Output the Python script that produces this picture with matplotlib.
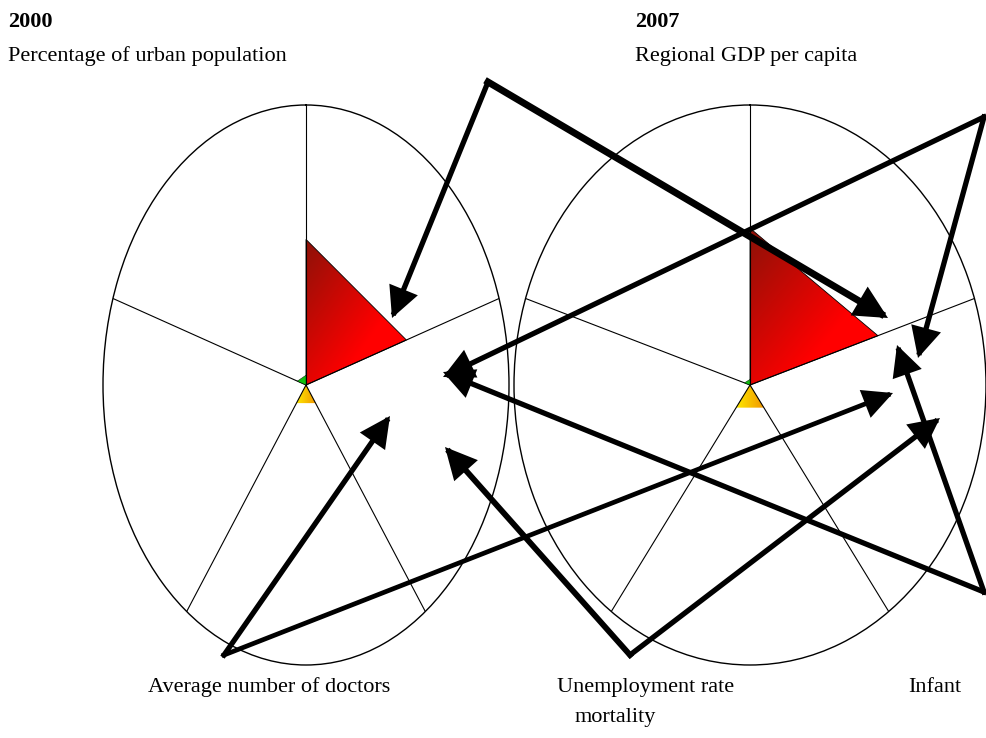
import numpy as np
import matplotlib
matplotlib.use("Agg")
import matplotlib.pyplot as plt
from matplotlib.colors import to_rgb

# ---------------- data ----------------
categories = ["Percentage of urban population", "Regional GDP per capita",
              "Average number of doctors", "Unemployment rate", "Infant mortality"]
years = ["2000", "2007"]
red_2000 = [0.52, 0.52, 0.0, 0.0, 0.0]
green_2000 = [0.035, 0.0, 0.0, 0.0, 0.045]
yellow_2000 = [0.0, 0.0, 0.08, 0.08, 0.0]
red_2007 = [0.56, 0.57, 0.0, 0.0, 0.0]
green_2007 = [0.02, 0.0, 0.0, 0.0, 0.025]
yellow_2007 = [0.0, 0.0, 0.10, 0.10, 0.0]

W, H = 986, 738
fig = plt.figure(figsize=(W / 100, H / 100), dpi=100)
fig.patch.set_facecolor("white")
plt.rcParams["font.family"] = ["Liberation Serif", "DejaVu Serif"]

def rect(cx, cy, rx, ry):
    return [(cx - rx) / W, 1 - (cy + ry) / H, 2 * rx / W, 2 * ry / H]

# background axis for gradients (below polar axes)
ax_bg = fig.add_axes([0, 0, 1, 1], zorder=0)
ax_bg.axis("off")

N = len(categories)
angles = np.arange(N) * 2 * np.pi / N

def make_polar(cx, cy, rx, ry):
    ax = fig.add_axes(rect(cx, cy, rx, ry), projection="polar", zorder=1)
    ax.set_aspect("auto")
    ax.set_theta_zero_location("N")
    ax.set_theta_direction(-1)
    ax.set_ylim(0, 1)
    ax.set_yticks([])
    ax.set_xticks(angles)
    ax.set_xticklabels([])
    ax.xaxis.grid(True, color="black", lw=0.8)
    ax.yaxis.grid(False)
    ax.patch.set_facecolor("none")
    ax.spines["polar"].set_color("black")
    ax.spines["polar"].set_linewidth(1.0)
    return ax

def gradient(ax, vals, c0, c1, direction, t_end=1.0, edge="black"):
    th = np.append(angles, angles[0])
    rr = np.append(vals, vals[0])
    poly = ax.fill(th, rr, facecolor="none", edgecolor=edge, lw=0.6)[0]
    verts = poly.get_transform().transform(poly.get_path().vertices)
    x0, x1 = verts[:, 0].min() - 2, verts[:, 0].max() + 2
    y0, y1 = verts[:, 1].min() - 2, verts[:, 1].max() + 2
    # pixel coordinates from top
    top, bot = H - y1, H - y0
    n = 120
    xs = np.linspace(0, 1, n)
    ys = np.linspace(0, 1, n)
    X, Y = np.meshgrid(xs, ys)  # Y=0 at top
    d = np.array(direction, float)
    t = (X * d[0] + Y * d[1]) / (abs(d[0]) + abs(d[1]))
    t = (t - t.min()) / (t.max() - t.min() + 1e-9)
    t = np.clip(t / t_end, 0, 1)
    a, b = np.array(to_rgb(c0)), np.array(to_rgb(c1))
    img = a[None, None, :] * (1 - t[..., None]) + b[None, None, :] * t[..., None]
    im = ax_bg.imshow(img, extent=(x0, x1, bot, top), origin="upper",
                      aspect="auto", interpolation="bilinear")
    im.set_clip_path(poly)
    return poly

def plain(ax, vals, color):
    th = np.append(angles, angles[0])
    rr = np.append(vals, vals[0])
    ax.fill(th, rr, facecolor=color, edgecolor="black", lw=0.3, zorder=3)

ax1 = make_polar(306, 385, 203, 280)
ax2 = make_polar(750, 385, 236, 280)

for ax, red, green, yellow in [(ax1, red_2000, green_2000, yellow_2000),
                               (ax2, red_2007, green_2007, yellow_2007)]:
    plain(ax, green, "#10C010")
    gradient(ax, yellow, "#FFF000", "#F09000", (1, 0), edge="none")
    gradient(ax, red, "#8A1208", "#FF0000", (1, 1), t_end=0.65)

ax_bg.set_xlim(0, W)
ax_bg.set_ylim(H, 0)

# ---------------- overlay: texts and arrows ----------------
ax_top = fig.add_axes([0, 0, 1, 1], zorder=2)
ax_top.axis("off")
ax_top.set_xlim(0, W)
ax_top.set_ylim(H, 0)
ax_top.patch.set_alpha(0)

fs = 16
ax_top.text(8, 27, years[0], fontsize=fs, fontweight="bold", va="baseline", ha="left")
ax_top.text(8, 61, categories[0], fontsize=fs, va="baseline", ha="left")
ax_top.text(635, 27, years[1], fontsize=fs, fontweight="bold", va="baseline", ha="left")
ax_top.text(635, 61, categories[1], fontsize=fs, va="baseline", ha="left")
ax_top.text(148, 692, categories[2], fontsize=fs, va="baseline", ha="left")
ax_top.text(557, 692, categories[3], fontsize=fs, va="baseline", ha="left")
ax_top.text(575, 722, categories[4].split()[1], fontsize=fs, va="baseline", ha="left")
ax_top.text(908, 692, categories[4].split()[0], fontsize=fs, va="baseline", ha="left")

arrows = [
    ((488, 82), (392, 318), 3.8),
    ((488, 82), (888, 318), 5.0),
    ((984, 117), (443, 377), 3.8),
    ((984, 117), (918, 358), 3.8),
    ((984, 592), (443, 372), 3.8),
    ((984, 592), (897, 345), 3.8),
    ((224, 655), (390, 416), 3.8),
    ((224, 655), (893, 393), 3.4),
    ((630, 655), (445, 447), 4.2),
    ((630, 655), (940, 418), 3.8),
]
for start, tip, lw in arrows:
    ax_top.annotate("", xy=tip, xytext=start, xycoords="data", textcoords="data",
                    arrowprops=dict(arrowstyle="-|>,head_length=0.8,head_width=0.4",
                                    lw=lw, color="black", mutation_scale=20,
                                    shrinkA=0, shrinkB=0, capstyle="projecting",
                                    joinstyle="miter"))

fig.savefig("out.png", dpi=100, facecolor="white")
